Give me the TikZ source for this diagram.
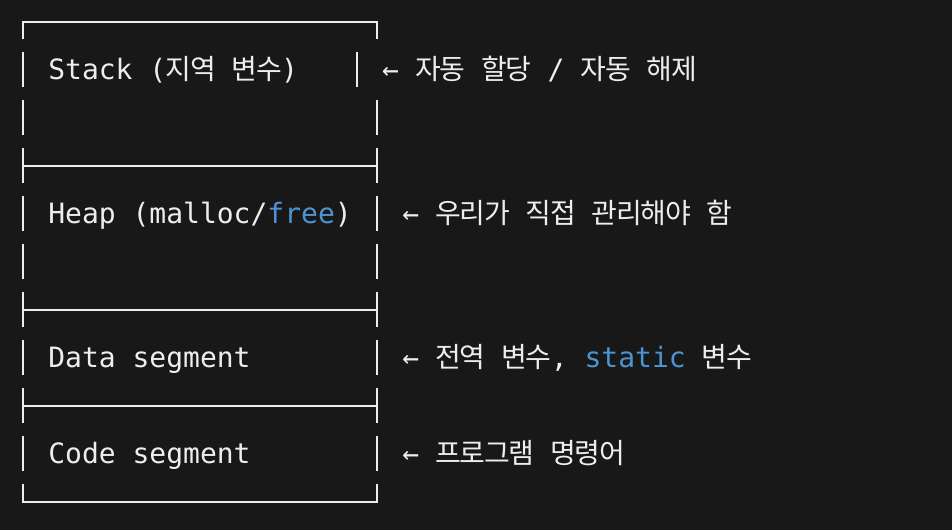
\documentclass[tikz,border=0pt]{standalone}
\usepackage{fontspec}
\setmainfont{DejaVu Sans Mono}
\newfontfamily\krfont{Noto Sans CJK KR}
\definecolor{bgc}{HTML}{181818}
\definecolor{fgc}{HTML}{EDEDED}
\definecolor{kwc}{HTML}{4D93D2}
\newcommand\K[1]{\makebox[24.5pt][c]{\krfont #1}}
\frenchspacing
\begin{document}
\begin{tikzpicture}[x=1pt,y=-1pt,
  txt/.style={anchor=base west, inner sep=0pt, outer sep=0pt, text=fgc, font=\fontsize{28}{28}\selectfont},
  bar/.style={draw=fgc, line width=2pt, line cap=butt, line join=miter},
]
\fill[bgc] (0,0) rectangle (952,530);
\useasboundingbox (0,0) rectangle (952,530);
% box corners and borders
\draw[bar] (23,39.3) -- (23,22.3) -- (377.2,22.3) -- (377.2,39.3);
\draw[bar] (23,484.3) -- (23,502.3) -- (377.2,502.3) -- (377.2,484.3);
% row 1 (Stack): right bar shifted
\draw[bar] (23,52.3) -- (23,87.3);
\draw[bar] (356.8,52.3) -- (356.8,87.3);
% plain rows
\foreach \c in {118.3,214.3,262.3,358.3,454.3}{
  \draw[bar] (23,\c-18) -- (23,\c+17);
  \draw[bar] (377.2,\c-18) -- (377.2,\c+17);
}
% tee rows (dividers)
\foreach \c in {166.3,310.3,406.3}{
  \draw[bar] (23,\c-18) -- (23,\c+17);
  \draw[bar] (377.2,\c-18) -- (377.2,\c+17);
  \draw[bar] (23,\c) -- (377.2,\c);
}
% labels inside
\node[txt] (stack) at (48.3,79.6) {Stack~(\K{지}\K{역}~\K{변}\K{수})};
\node[txt] (heap)  at (48.3,223.6) {Heap~(malloc/\textcolor{kwc}{free})};
\node[txt] (data)  at (48.3,367.6) {Data~segment};
\node[txt] (code)  at (48.3,463.6) {Code~segment};
% notes on the right
\node[txt] (nstack) at (382.1,79.6) {←~\K{자}\K{동}~\K{할}\K{당}~/~\K{자}\K{동}~\K{해}\K{제}};
\node[txt] (nheap)  at (402.3,223.6) {←~\K{우}\K{리}\K{가}~\K{직}\K{접}~\K{관}\K{리}\K{해}\K{야}~\K{함}};
\node[txt] (ndata)  at (402.3,367.6) {←~\K{전}\K{역}~\K{변}\K{수},~\textcolor{kwc}{static}~\K{변}\K{수}};
\node[txt] (ncode)  at (402.3,463.6) {←~\K{프}\K{로}\K{그}\K{램}~\K{명}\K{령}\K{어}};
\end{tikzpicture}
\end{document}
